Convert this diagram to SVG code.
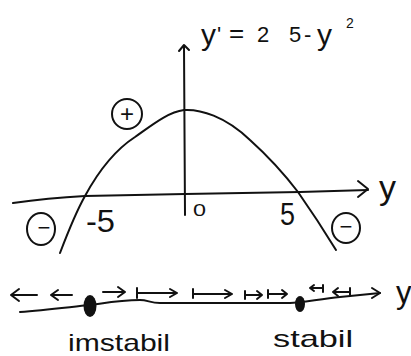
<svg xmlns="http://www.w3.org/2000/svg" width="411" height="356" viewBox="0 0 411 356">
<style>
.ink{fill:none;stroke:#111;stroke-width:2;stroke-linecap:round;stroke-linejoin:round}
.txt{font-family:"Liberation Sans","DejaVu Sans",sans-serif;fill:#111}
</style>
<rect width="411" height="356" fill="#fff"/>
<g id="axes">
<path class="ink" d="M13,203 C40,199 65,197 85,196 L185,194 L300,192 L368,190"/>
<path class="ink" d="M358,181 L368,189 L358,197"/>
<path class="ink" d="M185,215 L184,46"/>
<path class="ink" d="M179,51 L184,45 L189,50"/>
</g>
<g id="curve">
<path class="ink" d="M60,253 C68,232 76,212 85,196 C98,172 115,150 135,137 C152,125 168,112 184,110 C200,109 225,116 250,140 C270,158 285,175 298,192 C312,212 325,232 336,250"/>
</g>
<g id="title">
<text class="txt"><tspan x="201" y="45" font-size="30">y</tspan><tspan x="217" y="42" font-size="22">'</tspan><tspan x="229" y="42" font-size="26">=</tspan><tspan x="257" y="42" font-size="22">2</tspan><tspan x="289" y="42" font-size="22">5</tspan><tspan x="304" y="42" font-size="22">-</tspan><tspan x="317" y="45" font-size="30">y</tspan><tspan x="346" y="28" font-size="14">2</tspan></text>
</g>
<g id="labels">
<text class="txt" x="86" y="232" font-size="32" textLength="29" lengthAdjust="spacingAndGlyphs">-5</text>
<text class="txt" x="280" y="225" font-size="31" textLength="15" lengthAdjust="spacingAndGlyphs">5</text>
<text class="txt" x="193" y="216" font-size="16" textLength="13" lengthAdjust="spacingAndGlyphs">0</text>
<text class="txt" x="379" y="199" font-size="34">y</text>
</g>
<g id="sign-plus">
<ellipse class="ink" cx="127" cy="114" rx="15" ry="15"/>
<text class="txt" x="127" y="122" font-size="24" text-anchor="middle">+</text>
</g>
<g id="sign-minus-left">
<ellipse class="ink" cx="41" cy="229" rx="14" ry="16"/>
<text class="txt" x="44" y="235" font-size="22" text-anchor="middle">−</text>
</g>
<g id="sign-minus-right">
<ellipse class="ink" cx="346" cy="228" rx="14" ry="15"/>
<text class="txt" x="346" y="234" font-size="22" text-anchor="middle">−</text>
</g>
<g id="phase-line">
<path class="ink" d="M20,312 C45,310 70,307 90,305 C105,303 120,300 140,300 C148,300 150,303 160,303 L290,303 C300,303 320,299 340,297 L380,293"/>
<path class="ink" d="M372,288 L380,293 L372,298"/>
<text class="txt" x="396" y="303" font-size="31">y</text>
</g>
<g id="flow-arrows">
<path class="ink" d="M37,295 L11,295 M19,289 L11,295 L19,301"/>
<path class="ink" d="M72,295 L51,295 M58,290 L51,295 L58,300"/>
<path class="ink" d="M103,292 L125,292 M118,287 L125,292 L118,297"/>
<path class="ink" d="M137,288 L137,298 M137,293 L177,293 M170,289 L177,293 L170,297"/>
<path class="ink" d="M193,289 L193,298 M193,294 L232,294 M225,290 L232,294 L225,298"/>
<path class="ink" d="M245,291 L245,299 M245,295 L262,295 M257,291 L262,295 L257,299"/>
<path class="ink" d="M268,290 L268,298 M268,294 L287,294 M282,290 L287,294 L282,298"/>
<path class="ink" d="M323,285 L323,292 M323,288 L310,288 M314,285 L310,288 L314,291"/>
<path class="ink" d="M350,288 L350,296 M350,292 L333,292 M338,288 L333,292 L338,296"/>
</g>
<g id="equilibrium-unstable">
<ellipse cx="90" cy="306" rx="6.5" ry="11" fill="#111"/>
<text class="txt" x="68" y="351" font-size="24" textLength="102" lengthAdjust="spacingAndGlyphs">imstabil</text>
</g>
<g id="equilibrium-stable">
<ellipse cx="300" cy="304" rx="5" ry="8" fill="#111"/>
<text class="txt" x="273" y="347" font-size="24" textLength="80" lengthAdjust="spacingAndGlyphs">stabil</text>
</g>
</svg>
